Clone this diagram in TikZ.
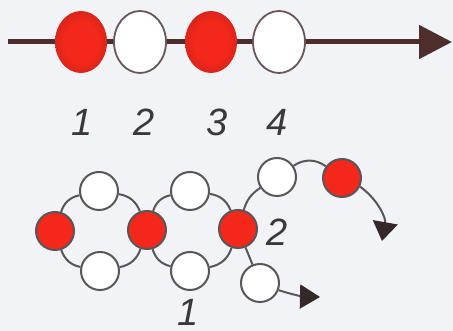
\documentclass[tikz,border=0pt]{standalone}
\usepackage{fontspec}
\setmainfont{Liberation Sans}
\usetikzlibrary{shapes.geometric,arrows.meta}

\definecolor{beadred}{RGB}{244,40,26}
\definecolor{beaddark}{RGB}{140,26,30}
\definecolor{rod}{RGB}{78,46,44}
\definecolor{rim}{RGB}{104,86,90}
\definecolor{strand}{RGB}{88,86,90}
\definecolor{tipdark}{RGB}{52,40,40}
\definecolor{ink}{RGB}{58,56,60}
\definecolor{paper}{RGB}{241,243,246}
\pgfdeclareradialshading{beadglow}{\pgfpoint{0bp}{0bp}}{color(0bp)=(beadred); color(16bp)=(beadred); color(29bp)=(beaddark!35!beadred); color(36bp)=(beaddark); color(50bp)=(beaddark)}

\begin{document}
\begin{tikzpicture}[x=1pt,y=1pt,
    bigbead/.style={ellipse,minimum width=52pt,minimum height=62pt,inner sep=0pt},
    redbig/.style={bigbead,shade,shading=beadglow},
    whitebig/.style={bigbead,draw=rim,line width=1.8pt,fill=white},
    bead/.style={circle,minimum size=38pt,inner sep=0pt,line width=2pt,draw=strand},
    redsmall/.style={bead,fill=beadred},
    whitesmall/.style={bead,fill=white},
    chain/.style={draw=strand,line width=2pt},
    num/.style={text=ink,inner sep=0pt,font=\fontsize{38}{40}\selectfont\itshape}]
      \useasboundingbox (0,0) rectangle (453,331);
      \fill[paper] (0,0) rectangle (453,331);

      % Beads on the rod
      \coordinate (start) at (8,289);
      \coordinate (stop) at (452,289);
      \node[redbig] (a1) at (81,289) {};
      \node[whitebig] (a2) at (140,289) {};
      \node[redbig] (a3) at (211,289) {};
      \node[whitebig] (a4) at (279,289) {};

      % Rod
      \draw[rod, line width=5pt] (start) -- (a1);
      \draw[rod, line width=5pt] (a1) -- (a2);
      \draw[rod, line width=5pt] (a2) -- (a3);
      \draw[rod, line width=5pt] (a3) -- (a4);
      \draw[rod, line width=5pt, -{Triangle[length=33pt,width=33pt]}] (a4) -- (stop);

      % Numbers
      \node[num] (n1) at (82,209) {1};
      \node[num] (n2) at (144,209) {2};
      \node[num] (n3) at (217,209) {3};
      \node[num] (n4) at (277,209) {4};

      % Chain of beads
      \node[redsmall] (r1) at (55,100) {};
      \node[whitesmall] (w1) at (99,140) {};
      \node[whitesmall] (w2) at (100,60) {};
      \node[redsmall] (r2) at (147,101) {};
      \node[whitesmall] (w3) at (190,140) {};
      \node[whitesmall] (w4) at (190,60) {};
      \node[redsmall] (r3) at (238,102) {};
      \node[whitesmall] (w5) at (277,154) {};
      \node[redsmall] (r4) at (342,153) {};
      \node[whitesmall] (w6) at (260,48) {};
      \coordinate (e1) at (320,34);
      \coordinate (e2) at (382,90);

      % Strands
      \draw[chain] (r1) to[bend left=30] (w1);
      \draw[chain] (w1) to[bend left=30] (r2);
      \draw[chain] (r1) to[bend right=30] (w2);
      \draw[chain] (w2) to[bend right=30] (r2);
      \draw[chain] (r2) to[bend left=30] (w3);
      \draw[chain] (w3) to[bend left=30] (r3);
      \draw[chain] (r2) to[bend right=30] (w4);
      \draw[chain] (w4) to[bend right=30] (r3);
      \draw[chain] (r3) to[bend left=20] (w5);
      \draw[chain] (w5) to[bend left=35] (r4);
      \draw[chain, -{Triangle[length=19pt,width=25pt,color=tipdark]}] (r4) to[bend left=32] (e2);
      \draw[chain] (r3) -- (w6);
      \draw[chain, -{Triangle[length=20pt,width=24pt,color=tipdark]}] (w6) to[bend right=8] (e1);

      % Labels
      \node[num] (l2) at (277,99) {2};
      \node[num] (l1) at (188,19) {1};
    \end{tikzpicture}
\end{document}
